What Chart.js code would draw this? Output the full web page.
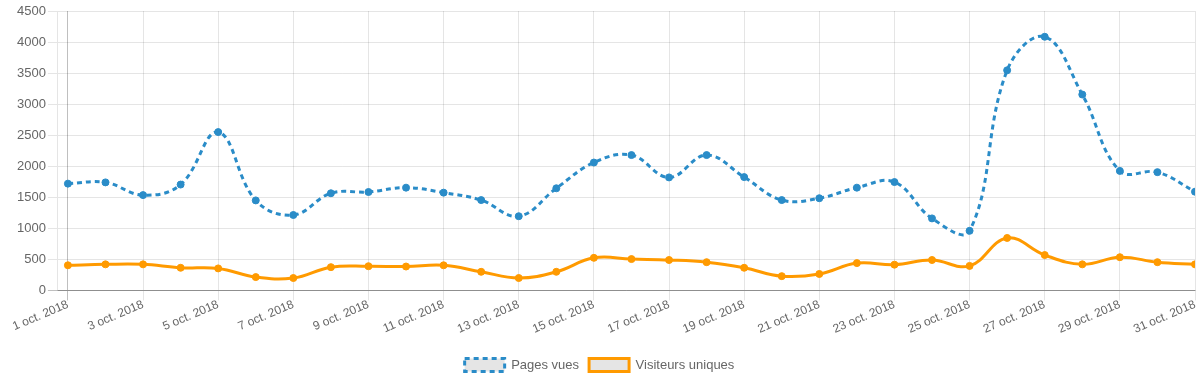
<!DOCTYPE html>
<html>
<head>
<meta charset="utf-8">
<script src="https://cdn.jsdelivr.net/npm/chart.js@4/dist/chart.umd.min.js"></script>
<style>
  html, body { margin: 0; padding: 0; background: #fff; }
  #wrap { width: 1200px; height: 378px; position: relative; }
</style>
</head>
<body>
<div id="wrap"><canvas id="c"></canvas></div>
<script>
const categories = [
  '1 oct. 2018','2 oct. 2018','3 oct. 2018','4 oct. 2018','5 oct. 2018','6 oct. 2018','7 oct. 2018',
  '8 oct. 2018','9 oct. 2018','10 oct. 2018','11 oct. 2018','12 oct. 2018','13 oct. 2018','14 oct. 2018',
  '15 oct. 2018','16 oct. 2018','17 oct. 2018','18 oct. 2018','19 oct. 2018','20 oct. 2018','21 oct. 2018',
  '22 oct. 2018','23 oct. 2018','24 oct. 2018','25 oct. 2018','26 oct. 2018','27 oct. 2018','28 oct. 2018',
  '29 oct. 2018','30 oct. 2018','31 oct. 2018'
];
const pagesVues = [1720,1740,1535,1705,2550,1450,1215,1565,1585,1655,1575,1455,1195,1645,2060,2180,1820,2180,1825,1455,1485,1655,1745,1160,960,3545,4085,3155,1925,1905,1590];
const visiteursUniques = [405,420,420,365,355,215,200,375,390,385,405,300,200,300,525,505,490,455,365,230,265,440,415,490,395,845,570,420,535,455,420];
const seriesNames = ['Pages vues', 'Visiteurs uniques'];
const yTicks = [0,500,1000,1500,2000,2500,3000,3500,4000,4500];
// every second day is labelled (1, 3, 5 ... 31 oct.)
const xTickIndices = categories.map((_, i) => i).filter(i => i % 2 === 0);

Chart.defaults.font.family = '"Liberation Sans", Arial, Helvetica, sans-serif';
Chart.defaults.font.size = 13;
Chart.defaults.color = '#666';

const toXY = arr => arr.map((v, i) => ({ x: i, y: v }));
const BLUE = '#2a8cc8';
const ORANGE = '#ff9a00';

new Chart(document.getElementById('c'), {
  type: 'line',
  data: {
    datasets: [
      {
        label: seriesNames[0],
        data: toXY(pagesVues),
        borderColor: BLUE,
        backgroundColor: 'rgba(0,0,0,0.1)',
        pointBackgroundColor: BLUE,
        pointBorderColor: BLUE,
        borderWidth: 3,
        borderDash: [5, 4],
        tension: 0.4,
        pointRadius: 3.5,
        pointBorderWidth: 1,
        fill: false
      },
      {
        label: seriesNames[1],
        data: toXY(visiteursUniques),
        borderColor: ORANGE,
        backgroundColor: 'rgba(0,0,0,0.1)',
        pointBackgroundColor: ORANGE,
        pointBorderColor: ORANGE,
        borderWidth: 3,
        tension: 0.4,
        pointRadius: 3.5,
        pointBorderWidth: 1,
        fill: false
      }
    ]
  },
  options: {
    responsive: true,
    maintainAspectRatio: false,
    animation: false,
    events: [],
    layout: { padding: { top: 11, right: 1, left: 0, bottom: -3.5 } },
    scales: {
      x: {
        type: 'linear',
        bounds: 'data',
        min: -0.266,
        max: categories.length - 1,
        afterBuildTicks: scale => { scale.ticks = xTickIndices.map(v => ({ value: v })); },
        afterFit: scale => { scale.height += 15; },
        grid: {
          color: ctx => (ctx.tick && ctx.tick.value === 0) ? 'rgba(0,0,0,0.25)' : 'rgba(0,0,0,0.1)',
          tickLength: 10
        },
        border: { display: true, color: 'rgba(0,0,0,0.25)' },
        ticks: {
          autoSkip: false,
          minRotation: 23,
          maxRotation: 23,
          padding: -3,
          font: { size: 12 },
          callback: v => categories[v]
        }
      },
      y: {
        min: yTicks[0],
        max: yTicks[yTicks.length - 1],
        afterFit: scale => { scale.width += 15; },
        grid: {
          color: ctx => (ctx.tick && ctx.tick.value === 0) ? 'rgba(0,0,0,0.25)' : 'rgba(0,0,0,0.1)',
          tickLength: 10
        },
        border: { display: true, color: 'rgba(0,0,0,0.1)' },
        ticks: { stepSize: 500, padding: 2, callback: v => String(v) }
      }
    },
    plugins: {
      legend: {
        position: 'bottom',
        labels: { boxWidth: 40, boxHeight: 13, padding: 10 }
      },
      tooltip: { enabled: false }
    }
  }
});
</script>
</body>
</html>
